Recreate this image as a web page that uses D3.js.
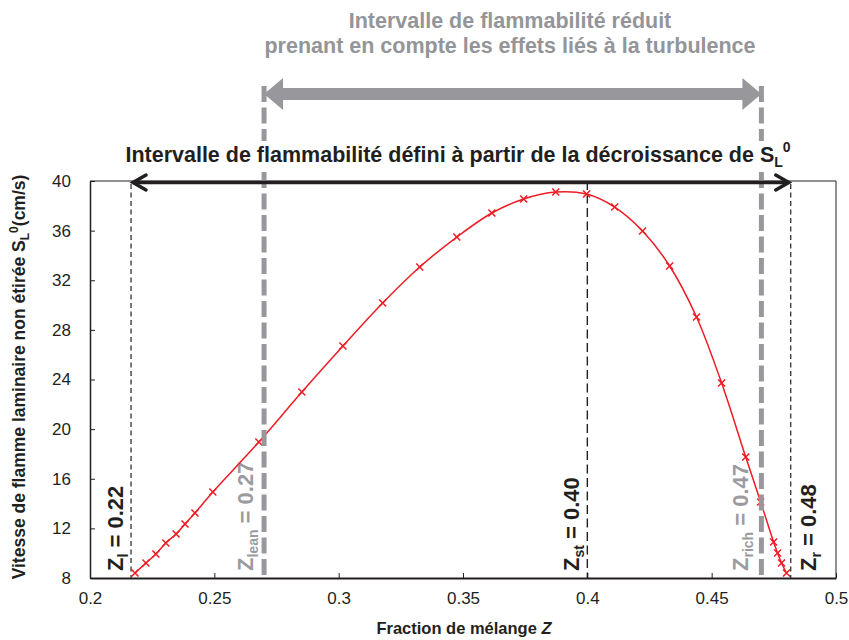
<!DOCTYPE html>
<html><head><meta charset="utf-8">
<script src="https://cdn.jsdelivr.net/npm/d3@7"></script>
<style>body{margin:0;background:#fff}svg{display:block}</style>
</head><body>
<script>
// ---- data ----
const zValues = [0.2181,0.2225,0.2265,0.2305,0.2346,0.2382,0.2422,0.2494,0.2679,0.2852,0.3017,0.3177,0.3326,0.3475,0.3616,0.3744,0.3873,0.3997,0.4110,0.4222,0.4331,0.4439,0.4540,0.4637,0.4697,0.4749,0.4765,0.4781,0.4801];
const slValues = [8.40,9.21,9.93,10.82,11.55,12.35,13.24,14.93,18.96,22.99,26.70,30.17,33.07,35.48,37.42,38.55,39.11,38.95,37.90,35.97,33.15,29.04,23.72,17.75,14.13,10.90,10.02,9.21,8.40];
const xTickValues = [0.2,0.25,0.3,0.35,0.4,0.45,0.5];
const yTickValues = [8,12,16,20,24,28,32,36,40];
const boundNames = ["l","lean","st","rich","r"];
const boundValues = [0.2165,0.27,0.40,0.47,0.4818];
const boundLabels = ["0.22","0.27","0.40","0.47","0.48"];
const titleGray = ["Intervalle de flammabilité réduit","prenant en compte les effets liés à la turbulence"];
const titleBlack = "Intervalle de flammabilité défini à partir de la décroissance de S";
const xTitle = "Fraction de mélange ";
const yTitle = "Vitesse de flamme laminaire non étirée S";

// ---- layout ----
const W = 849, H = 640;
const L = 90, R = 836, T = 181, B = 578;
const FONT = "'Liberation Sans', Arial, Helvetica, sans-serif";
const DARK = "#231f20", GRAY = "#98989c", RED = "#ed1c24";

const svg = d3.select("body").append("svg").attr("width", W).attr("height", H)
  .style("font-family", FONT);

const x = d3.scaleLinear().domain([0.2, 0.5]).range([L, R]);
const y = d3.scaleLinear().domain([8, 40]).range([B, T]);

// frame top/right
svg.append("line").attr("x1", L).attr("x2", R).attr("y1", T).attr("y2", T).attr("stroke", DARK).attr("stroke-width", 1);
svg.append("line").attr("x1", R).attr("x2", R).attr("y1", T).attr("y2", B).attr("stroke", DARK).attr("stroke-width", 1);

// axes
const xAxis = d3.axisBottom(x).tickValues(xTickValues).tickSizeInner(-5).tickSizeOuter(0).tickPadding(14)
  .tickFormat(d => d3.format("")(+d.toFixed(2)));
const gx = svg.append("g").attr("transform", `translate(0,${B})`).call(xAxis);
gx.select(".domain").attr("stroke", DARK).attr("stroke-width", 2);
gx.selectAll(".tick line").attr("stroke", DARK).attr("stroke-width", 1);
gx.selectAll(".tick text").attr("fill", DARK).style("font-size", "17px").style("font-family", FONT);

const yAxis = d3.axisLeft(y).tickValues(yTickValues).tickSizeInner(-5).tickSizeOuter(0).tickPadding(19);
const gy = svg.append("g").attr("transform", `translate(${L},0)`).call(yAxis);
gy.select(".domain").attr("stroke", DARK).attr("stroke-width", 1.5);
gy.selectAll(".tick line").attr("stroke", DARK).attr("stroke-width", 1);
gy.selectAll(".tick text").attr("fill", DARK).style("font-size", "17px").style("font-family", FONT);

// axis titles
const xt = svg.append("text").attr("x", 464).attr("y", 634).attr("text-anchor", "middle")
  .attr("fill", DARK).style("font-size", "16.5px").style("font-weight", "bold");
xt.append("tspan").text(xTitle);
xt.append("tspan").attr("font-style", "italic").text("Z");

const yt = svg.append("text").attr("transform", `translate(25,377) rotate(-90)`)
  .attr("text-anchor", "middle").attr("fill", DARK).style("font-size", "17.5px").style("font-weight", "bold");
yt.append("tspan").text(yTitle);
yt.append("tspan").attr("dy", 4).style("font-size", "12px").text("L");
yt.append("tspan").attr("dy", -11).style("font-size", "12px").text("0");
yt.append("tspan").attr("dy", 7).text("(cm/s)");

// bound labels (rotated)
const labelOffset = {l: -8, lean: -11, st: -8, rich: -13, r: 25};
const labelColor = {l: DARK, lean: "#9b9b9f", st: DARK, rich: "#9b9b9f", r: DARK};
boundNames.forEach((n, i) => {
  const t = svg.append("text")
    .attr("transform", `translate(${x(boundValues[i]) + labelOffset[n]},571) rotate(-90)`)
    .attr("fill", labelColor[n]).style("font-size", "22px").style("font-weight", "bold");
  t.append("tspan").text("Z");
  t.append("tspan").attr("dy", 5).style("font-size", "14px").text(n);
  t.append("tspan").attr("dy", -5).text(" = " + boundLabels[i]);
});

// black dashed bound lines
boundNames.forEach((n, i) => {
  if (n === "l" || n === "r") {
    svg.append("line").attr("x1", x(boundValues[i])).attr("x2", x(boundValues[i]))
      .attr("y1", T + 3).attr("y2", B).attr("stroke", DARK).attr("stroke-width", 1.2)
      .attr("stroke-dasharray", "5,3.5");
  } else if (n === "st") {
    svg.append("line").attr("x1", x(boundValues[i])).attr("x2", x(boundValues[i]))
      .attr("y1", T).attr("y2", B).attr("stroke", DARK).attr("stroke-width", 1.4)
      .attr("stroke-dasharray", "9,4.5");
  }
});

// curve
const pts = zValues.map((z, i) => [z, slValues[i]]);
const line = d3.line().x(d => x(d[0])).y(d => y(d[1])).curve(d3.curveCatmullRom.alpha(0.5));
svg.append("path").attr("d", line(pts)).attr("fill", "none").attr("stroke", RED).attr("stroke-width", 1.5);
svg.append("g").selectAll("path").data(pts).join("path")
  .attr("d", d => { const cx = x(d[0]), cy = y(d[1]), s = 3.5;
    return `M${cx - s},${cy - s}L${cx + s},${cy + s}M${cx - s},${cy + s}L${cx + s},${cy - s}`; })
  .attr("stroke", RED).attr("stroke-width", 1.5).attr("fill", "none");

// gray thick dashed lines
boundNames.forEach((n, i) => {
  if (n === "lean" || n === "rich") {
    svg.append("line").attr("x1", x(boundValues[i])).attr("x2", x(boundValues[i]))
      .attr("y1", 86).attr("y2", B).attr("stroke", GRAY).attr("stroke-width", 5)
      .attr("stroke-dasharray", "16,5.5");
  }
});

// white backing behind black title
svg.append("rect").attr("x", 118).attr("y", 141).attr("width", 690).attr("height", 31).attr("fill", "#fff");

// black title
const bt = svg.append("text").attr("x", 458).attr("y", 162).attr("text-anchor", "middle")
  .attr("fill", DARK).style("font-size", "21.5px").style("font-weight", "bold");
bt.append("tspan").text(titleBlack);
bt.append("tspan").attr("dy", 5).style("font-size", "14px").text("L");
bt.append("tspan").attr("dy", -15).style("font-size", "14px").text("0");

// gray title
titleGray.forEach((s, i) => {
  svg.append("text").attr("x", 510).attr("y", 28 + i * 25).attr("text-anchor", "middle")
    .attr("fill", "#939598").style("font-size", "21.5px").style("font-weight", "bold").text(s);
});

// gray double arrow
{
  const x0 = x(boundValues[1]), x1 = x(boundValues[3]), ay = 94, t = 6, hh = 16, hl = 19;
  const p = [[x0, ay], [x0 + hl, ay - hh], [x0 + hl, ay - t], [x1 - hl, ay - t], [x1 - hl, ay - hh], [x1, ay],
             [x1 - hl, ay + hh], [x1 - hl, ay + t], [x0 + hl, ay + t], [x0 + hl, ay + hh]];
  svg.append("path").attr("d", "M" + p.map(d => d.join(",")).join("L") + "Z").attr("fill", GRAY);
}

// black double arrow
{
  const x0 = x(boundValues[0]), x1 = x(boundValues[4]), ay = 182.5;
  svg.append("line").attr("x1", x0 + 2).attr("x2", x1 - 2).attr("y1", ay).attr("y2", ay)
    .attr("stroke", DARK).attr("stroke-width", 3.5);
  svg.append("path").attr("d", `M${x0 + 15},${ay - 7.5}L${x0 + 2},${ay}L${x0 + 15},${ay + 7.5}`)
    .attr("fill", "none").attr("stroke", DARK).attr("stroke-width", 3.5).attr("stroke-linecap", "round");
  svg.append("path").attr("d", `M${x1 - 15},${ay - 7.5}L${x1 - 2},${ay}L${x1 - 15},${ay + 7.5}`)
    .attr("fill", "none").attr("stroke", DARK).attr("stroke-width", 3.5).attr("stroke-linecap", "round");
}
</script>
</body></html>
